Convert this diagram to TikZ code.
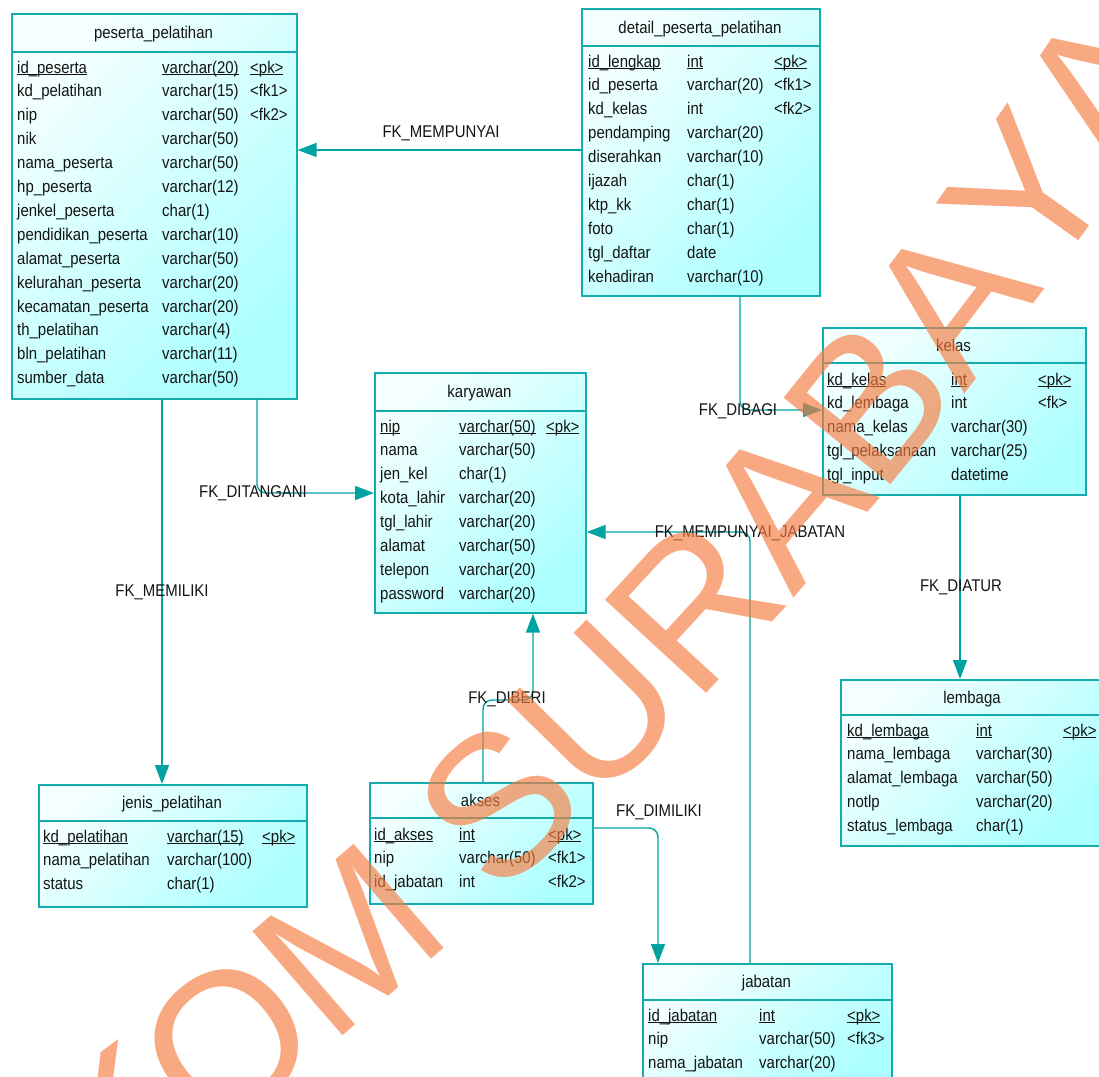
\documentclass[tikz,border=0pt]{standalone}
\usepackage{fontspec}
\setmainfont{Liberation Sans}[FakeStretch=0.88]
\newfontfamily\wmfont{Liberation Sans}
\usetikzlibrary{arrows.meta,decorations.text}
\definecolor{tealb}{RGB}{20,172,172}
\definecolor{tealc}{RGB}{0,162,162}
\definecolor{tlight}{RGB}{244,255,255}
\definecolor{tdark}{RGB}{172,255,255}
\definecolor{wmc}{RGB}{247,124,63}
\definecolor{txt}{RGB}{20,20,20}
\newcommand\pkul[1]{\setbox0\hbox{#1}\rlap{\rule[-2.4pt]{\wd0}{1.1pt}}\box0}
\newcommand\fld[6]{%
  \node[cell] (#1n#2) at (\cA,{\bz+23.9*#2}) {#4};
  \node[cell] (#1t#2) at (\cB,{\bz+23.9*#2}) {#5};
  \node[cell] (#1k#2) at (\cC,{\bz+23.9*#2}) {#6};}
\begin{document}
\begin{tikzpicture}[x=1pt,y=-1pt,
  every node/.style={font=\fontsize{17}{20}\selectfont, text=txt, inner sep=0pt},
  tbl/.style={draw=tealb, line width=1.6pt, top color=tlight, bottom color=tdark, shading angle=45, anchor=north west},
  hdr/.style={draw=tealb, line width=1.6pt},
  cell/.style={anchor=base west},
  ttl/.style={anchor=base},
  lbl/.style={anchor=center},
  fk/.style={draw=tealc, line width=1.4pt, rounded corners=9pt, -{Triangle[length=19pt,width=14pt]}}]
\useasboundingbox (0,0) rectangle (1099,1076);
\fill[white] (0,0) rectangle (1099,1076);

% ---------- peserta_pelatihan
\node[tbl, minimum width=285pt, minimum height=385pt] (pes) at (11,13) {};
\draw[hdr] (pes.west |- 0,52) -- (pes.east |- 0,52);
\node[ttl] (pesT) at (153.5,38.5) {peserta\_pelatihan};
\def\cA{17}\def\cB{162}\def\cC{250}\def\bz{73}
\fld{pes}{0}{}{\pkul{id\_peserta}}{\pkul{varchar(20)}}{\pkul{<pk>}}
\fld{pes}{1}{}{kd\_pelatihan}{varchar(15)}{<fk1>}
\fld{pes}{2}{}{nip}{varchar(50)}{<fk2>}
\fld{pes}{3}{}{nik}{varchar(50)}{}
\fld{pes}{4}{}{nama\_peserta}{varchar(50)}{}
\fld{pes}{5}{}{hp\_peserta}{varchar(12)}{}
\fld{pes}{6}{}{jenkel\_peserta}{char(1)}{}
\fld{pes}{7}{}{pendidikan\_peserta}{varchar(10)}{}
\fld{pes}{8}{}{alamat\_peserta}{varchar(50)}{}
\fld{pes}{9}{}{kelurahan\_peserta}{varchar(20)}{}
\fld{pes}{10}{}{kecamatan\_peserta}{varchar(20)}{}
\fld{pes}{11}{}{th\_pelatihan}{varchar(4)}{}
\fld{pes}{12}{}{bln\_pelatihan}{varchar(11)}{}
\fld{pes}{13}{}{sumber\_data}{varchar(50)}{}

% ---------- detail_peserta_pelatihan
\node[tbl, minimum width=238pt, minimum height=287pt] (det) at (581,8) {};
\draw[hdr] (det.west |- 0,46) -- (det.east |- 0,46);
\node[ttl] (detT) at (700,33) {detail\_peserta\_pelatihan};
\def\cA{588}\def\cB{687}\def\cC{774}\def\bz{67}
\fld{det}{0}{}{\pkul{id\_lengkap}}{\pkul{int}}{\pkul{<pk>}}
\fld{det}{1}{}{id\_peserta}{varchar(20)}{<fk1>}
\fld{det}{2}{}{kd\_kelas}{int}{<fk2>}
\fld{det}{3}{}{pendamping}{varchar(20)}{}
\fld{det}{4}{}{diserahkan}{varchar(10)}{}
\fld{det}{5}{}{ijazah}{char(1)}{}
\fld{det}{6}{}{ktp\_kk}{char(1)}{}
\fld{det}{7}{}{foto}{char(1)}{}
\fld{det}{8}{}{tgl\_daftar}{date}{}
\fld{det}{9}{}{kehadiran}{varchar(10)}{}

% ---------- karyawan
\node[tbl, minimum width=211pt, minimum height=240pt] (kar) at (374,372) {};
\draw[hdr] (kar.west |- 0,411) -- (kar.east |- 0,411);
\node[ttl] (karT) at (479.5,397) {karyawan};
\def\cA{380}\def\cB{459}\def\cC{546}\def\bz{432}
\fld{kar}{0}{}{\pkul{nip}}{\pkul{varchar(50)}}{\pkul{<pk>}}
\fld{kar}{1}{}{nama}{varchar(50)}{}
\fld{kar}{2}{}{jen\_kel}{char(1)}{}
\fld{kar}{3}{}{kota\_lahir}{varchar(20)}{}
\fld{kar}{4}{}{tgl\_lahir}{varchar(20)}{}
\fld{kar}{5}{}{alamat}{varchar(50)}{}
\fld{kar}{6}{}{telepon}{varchar(20)}{}
\fld{kar}{7}{}{password}{varchar(20)}{}

% ---------- kelas
\node[tbl, minimum width=263pt, minimum height=167pt] (kel) at (822,327) {};
\draw[hdr] (kel.west |- 0,363) -- (kel.east |- 0,363);
\node[ttl] (kelT) at (953.5,351) {kelas};
\def\cA{827}\def\cB{951}\def\cC{1038}\def\bz{385}
\fld{kel}{0}{}{\pkul{kd\_kelas}}{\pkul{int}}{\pkul{<pk>}}
\fld{kel}{1}{}{kd\_lembaga}{int}{<fk>}
\fld{kel}{2}{}{nama\_kelas}{varchar(30)}{}
\fld{kel}{3}{}{tgl\_pelaksanaan}{varchar(25)}{}
\fld{kel}{4}{}{tgl\_input}{datetime}{}

% ---------- lembaga
\node[tbl, minimum width=264pt, minimum height=166pt] (lem) at (840,679) {};
\draw[hdr] (lem.west |- 0,715) -- (lem.east |- 0,715);
\node[ttl] (lemT) at (972,703) {lembaga};
\def\cA{847}\def\cB{976}\def\cC{1063}\def\bz{736}
\fld{lem}{0}{}{\pkul{kd\_lembaga}}{\pkul{int}}{\pkul{<pk>}}
\fld{lem}{1}{}{nama\_lembaga}{varchar(30)}{}
\fld{lem}{2}{}{alamat\_lembaga}{varchar(50)}{}
\fld{lem}{3}{}{notlp}{varchar(20)}{}
\fld{lem}{4}{}{status\_lembaga}{char(1)}{}

% ---------- jenis_pelatihan
\node[tbl, minimum width=268pt, minimum height=122pt] (jen) at (38,784) {};
\draw[hdr] (jen.west |- 0,821) -- (jen.east |- 0,821);
\node[ttl] (jenT) at (172,808) {jenis\_pelatihan};
\def\cA{43}\def\cB{167}\def\cC{262}\def\bz{842}
\fld{jen}{0}{}{\pkul{kd\_pelatihan}}{\pkul{varchar(15)}}{\pkul{<pk>}}
\fld{jen}{1}{}{nama\_pelatihan}{varchar(100)}{}
\fld{jen}{2}{}{status}{char(1)}{}

% ---------- akses
\node[tbl, minimum width=223pt, minimum height=121pt] (aks) at (369,782) {};
\draw[hdr] (aks.west |- 0,818) -- (aks.east |- 0,818);
\node[ttl] (aksT) at (480.5,806) {akses};
\def\cA{374}\def\cB{459}\def\cC{548}\def\bz{840}
\fld{aks}{0}{}{\pkul{id\_akses}}{\pkul{int}}{\pkul{<pk>}}
\fld{aks}{1}{}{nip}{varchar(50)}{<fk1>}
\fld{aks}{2}{}{id\_jabatan}{int}{<fk2>}

% ---------- jabatan
\node[tbl, minimum width=249pt, minimum height=130pt] (jab) at (642,963) {};
\draw[hdr] (jab.west |- 0,1000) -- (jab.east |- 0,1000);
\node[ttl] (jabT) at (766.5,987) {jabatan};
\def\cA{648}\def\cB{759}\def\cC{847}\def\bz{1021}
\fld{jab}{0}{}{\pkul{id\_jabatan}}{\pkul{int}}{\pkul{<pk>}}
\fld{jab}{1}{}{nip}{varchar(50)}{<fk3>}
\fld{jab}{2}{}{nama\_jabatan}{varchar(20)}{}

% ---------- connectors
\draw[fk] (det.west |- 0,150) -- (pes.east |- 0,150);
\node[lbl] (lMem) at (441,133) {FK\_MEMPUNYAI};
\draw[fk] (pes.south -| 257,0) |- (kar.west |- 0,493);
\node[lbl] (lTan) at (253,493) {FK\_DITANGANI};
\draw[fk] (pes.south -| 162,0) -- (jen.north -| 162,0);
\node[lbl] (lMil) at (162,592) {FK\_MEMILIKI};
\draw[fk] (det.south -| 740,0) |- (kel.west |- 0,410);
\node[lbl] (lBag) at (738,411) {FK\_DIBAGI};
\draw[fk] (aks.north -| 483,0) |- (533,700) -- (kar.south -| 533,0);
\node[lbl] (lBer) at (507,699) {FK\_DIBERI};
\draw[fk] (aks.east |- 0,828) -| (jab.north -| 658,0);
\node[lbl] (lDim) at (659,812) {FK\_DIMILIKI};
\draw[fk] (jab.north -| 750,0) |- (kar.east |- 0,532);
\node[lbl] (lJab) at (750,533) {FK\_MEMPUNYAI\_JABATAN};
\draw[fk] (kel.south -| 960,0) -- (lem.north -| 960,0);
\node[lbl] (lAtu) at (961,587) {FK\_DIATUR};

% ---------- watermark
\begin{scope}[x=1pt,y=1pt,shift={(0pt,-1076pt)},opacity=0.65]
\path[decorate,decoration={text along path,
  text={|\wmfont\fontsize{200}{200}\selectfont\color{wmc}|STIKOM SURABAYA}}]
  (-2431,3348) ++(-58.2:4317) arc[start angle=-58.2,end angle=-28,radius=4317];
\end{scope}
\end{tikzpicture}
\end{document}
